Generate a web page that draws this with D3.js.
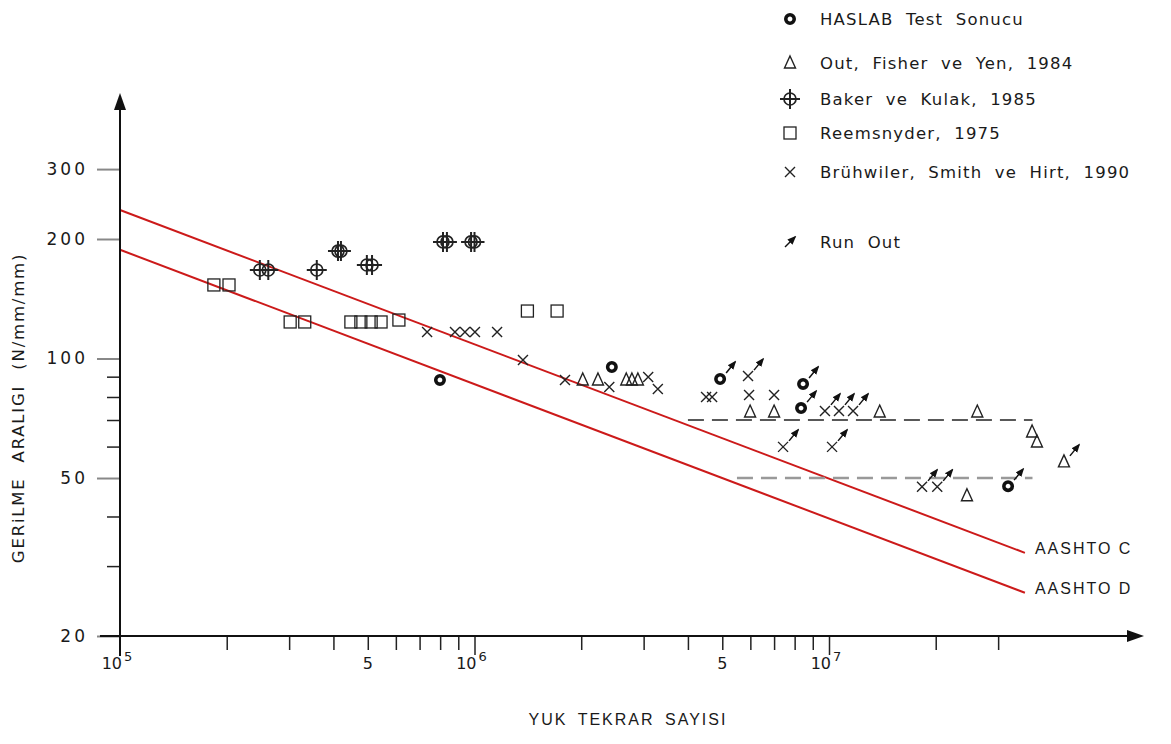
<!DOCTYPE html>
<html>
<head>
<meta charset="utf-8">
<title>Gerilme - Yuk Tekrar</title>
<style>
  body { margin: 0; background: white; }
  svg text { font-family: "DejaVu Sans", sans-serif; fill: #1a1a1a; }
  .leg { font-size: 16.5px; letter-spacing: 1.2px; word-spacing: 6px; }
  .tick text { font-size: 17px; letter-spacing: 3px; }
  .cad { font-family: "Liberation Sans", Arial, sans-serif; font-size: 16px; letter-spacing: 2px; }
</style>
</head>
<body>
<div id="chart"></div>
<script src="https://cdn.jsdelivr.net/npm/d3@7"></script>
<script>
  // each point: [N, stress (N/mm2), run out]
  const haslab = [[7.99e5, 88.3, 0], [2.44e6, 95.2, 0], [4.93e6, 88.8, 1], [8.45e6, 86.3, 1],
                  [8.34e6, 75.0, 1], [3.20e7, 47.7, 1]];
  const outFisherYen = [[2.02e6, 88.3], [2.23e6, 88.3], [2.68e6, 88.3], [2.78e6, 88.3], [2.89e6, 88.3],
                        [5.99e6, 73.3], [7.00e6, 73.3], [1.39e7, 73.3], [2.62e7, 73.3], [3.74e7, 65.3],
                        [3.86e7, 61.6], [4.60e7, 54.9, 1], [2.45e7, 45.1]];
  const bakerKulak = [[2.48e5, 167.1], [2.62e5, 167.1], [3.59e5, 167.1], [4.12e5, 186.5], [4.20e5, 186.5],
                      [4.97e5, 172.0], [5.14e5, 172.0], [8.15e5, 196.6], [8.36e5, 196.6], [9.78e5, 196.6],
                      [1.0e6, 196.6]];
  const reemsnyder = [[1.84e5, 153.2], [2.03e5, 153.2], [3.02e5, 123.6], [3.32e5, 123.6], [4.48e5, 123.6],
                      [4.78e5, 123.6], [5.11e5, 123.6], [5.45e5, 123.6], [6.12e5, 125.0], [1.41e6, 131.7],
                      [1.71e6, 131.7]];
  const bruhwiler = [[7.35e5, 116.6], [8.81e5, 116.6], [9.40e5, 116.6], [1.003e6, 116.6], [1.158e6, 116.6],
                     [1.37e6, 99.1], [1.80e6, 88.3], [2.40e6, 84.8], [3.09e6, 89.8], [3.29e6, 83.8],
                     [4.50e6, 80.0], [4.68e6, 80.0], [5.91e6, 90.3, 1], [5.95e6, 80.9], [7.00e6, 80.9],
                     [9.74e6, 73.8, 1], [1.067e7, 73.8, 1], [1.169e7, 73.8, 1], [7.42e6, 59.9, 1],
                     [1.02e7, 59.9, 1], [1.83e7, 47.5, 1], [2.02e7, 47.5, 1]];

  const aashtoC = [[1e5, 236.6], [3.57e7, 32.4]];
  const aashtoD = [[1e5, 187.9], [3.57e7, 25.7]];
  const limitC = [[4.0e6, 70], [3.75e7, 70]];
  const limitD = [[5.5e6, 50], [3.75e7, 50]];

  const yMajor = [20, 50, 100, 200, 300];
  const yMinor = [30, 40, 60, 70, 80, 90];
  const xMinor = [2e5, 3e5, 4e5, 5e5, 6e5, 7e5, 8e5, 9e5, 2e6, 3e6, 4e6, 5e6, 6e6, 7e6, 8e6, 9e6, 2e7, 3e7];
  const xMajor = [1e6, 1e7];
  const xLabels = [[1e5, "10", "5"], [5e5, "5", ""], [1e6, "10", "6"], [5e6, "5", ""], [1e7, "10", "7"]];

  const legendItems = [["haslab", "HASLAB Test Sonucu"], ["tri", "Out, Fisher ve Yen, 1984"],
                       ["baker", "Baker ve Kulak, 1985"], ["square", "Reemsnyder, 1975"],
                       ["cross", "Brühwiler, Smith ve Hirt, 1990"], ["runout", "Run Out"]];

  const width = 1171, height = 744;
  const x = d3.scaleLog().domain([1e5, 1e7]).range([120, 829]);
  const y = d3.scaleLog().domain([20, 200]).range([636, 239]);

  const svg = d3.select("#chart").append("svg")
    .attr("width", width).attr("height", height);

  svg.append("defs").append("marker")
    .attr("id", "arr").attr("viewBox", "0 0 10 10").attr("refX", 8).attr("refY", 5)
    .attr("markerWidth", 6).attr("markerHeight", 6).attr("orient", "auto")
    .append("path").attr("d", "M0,1L10,5L0,9Z").attr("fill", "#111");

  // AASHTO lines
  const line = d3.line().x(d => x(d[0])).y(d => y(d[1]));
  [aashtoC, aashtoD].forEach(l => {
    svg.append("path").attr("d", line(l)).attr("fill", "none")
      .attr("stroke", "#cc1a1a").attr("stroke-width", 2);
  });
  svg.append("path").attr("d", line(limitC)).attr("fill", "none")
    .attr("stroke", "#222").attr("stroke-width", 1.6).attr("stroke-dasharray", "16,8");
  svg.append("path").attr("d", line(limitD)).attr("fill", "none")
    .attr("stroke", "#999").attr("stroke-width", 2.6).attr("stroke-dasharray", "16,8");

  svg.append("text").attr("class", "cad").attr("x", x(aashtoC[1][0]) + 10).attr("y", y(aashtoC[1][1]) + 1)
    .text("AASHTO  C");
  svg.append("text").attr("class", "cad").attr("x", x(aashtoD[1][0]) + 10).attr("y", y(aashtoD[1][1]) + 1)
    .text("AASHTO  D");

  // axes
  const yMinorAxis = d3.axisLeft(y).tickValues(yMinor).tickSize(13).tickFormat("");
  const yMajorAxis = d3.axisLeft(y).tickValues(yMajor).tickSize(23).tickPadding(9).tickFormat(d3.format("d"));
  const gy1 = svg.append("g").attr("transform", "translate(120,0)").call(yMinorAxis);
  const gy2 = svg.append("g").attr("transform", "translate(120,0)").call(yMajorAxis);
  gy1.selectAll("line").attr("stroke", "#222").attr("stroke-width", 1.5);
  gy2.selectAll("line").attr("stroke", "#888").attr("stroke-width", 2);
  gy2.selectAll("text").attr("font-size", 17).attr("fill", "#333");
  svg.selectAll(".domain").remove();

  const xMinorAxis = d3.axisBottom(x).tickValues(xMinor).tickSize(14).tickFormat("");
  const xMajorAxis = d3.axisBottom(x).tickValues(xMajor).tickSize(19).tickFormat("");
  svg.append("g").attr("transform", "translate(0,636)").call(xMinorAxis)
    .selectAll("line").attr("stroke", "#222").attr("stroke-width", 1.5);
  svg.append("g").attr("transform", "translate(0,636)").call(xMajorAxis)
    .selectAll("line").attr("stroke", "#222").attr("stroke-width", 1.5);
  svg.selectAll(".domain").remove();

  const xl = svg.append("g").selectAll("text").data(xLabels).join("text")
    .attr("x", d => x(d[0]) + (d[2] ? -3 : 0)).attr("y", 669)
    .attr("text-anchor", "middle").attr("font-size", 16).attr("fill", "#333");
  xl.append("tspan").text(d => d[1]);
  xl.append("tspan").attr("dy", -8).attr("font-size", 13).attr("dx", 2).text(d => d[2]);

  // axis lines with arrows
  svg.append("line").attr("x1", 120).attr("x2", 120).attr("y1", 656).attr("y2", 108)
    .attr("stroke", "#111").attr("stroke-width", 2);
  svg.append("path").attr("d", "M120,93L114,110L126,110Z").attr("fill", "#111");
  svg.append("line").attr("x1", 100).attr("x2", 1130).attr("y1", 636).attr("y2", 636)
    .attr("stroke", "#111").attr("stroke-width", 2);
  svg.append("path").attr("d", "M1144,636L1127,630L1127,642Z").attr("fill", "#111");

  svg.append("text").attr("class", "cad").attr("x", 628).attr("y", 725).attr("text-anchor", "middle")
    .attr("font-size", 16).attr("letter-spacing", 2.6).attr("word-spacing", 4).text("YUK TEKRAR SAYISI");
  svg.append("text").attr("transform", "translate(24,408) rotate(-90)").attr("text-anchor", "middle")
    .attr("font-size", 16.5).attr("letter-spacing", 1.8).attr("word-spacing", 8)
    .text("GERiLME ARALIGI (N/mm/mm)");

  // markers
  function drawMarker(g, type) {
    if (type === "haslab") {
      g.append("circle").attr("r", 4.2).attr("fill", "none").attr("stroke", "#111").attr("stroke-width", 3.6);
    } else if (type === "tri") {
      g.append("path").attr("d", "M0,-7L5.5,5L-5.5,5Z").attr("fill", "none").attr("stroke", "#222").attr("stroke-width", 1.4);
    } else if (type === "baker") {
      g.append("circle").attr("r", 6).attr("fill", "none").attr("stroke", "#222").attr("stroke-width", 1.7);
      g.append("path").attr("d", "M-10,0H10M0,-10V10").attr("stroke", "#222").attr("stroke-width", 2);
    } else if (type === "square") {
      g.append("rect").attr("x", -6).attr("y", -6).attr("width", 12).attr("height", 12)
        .attr("fill", "none").attr("stroke", "#222").attr("stroke-width", 1.3);
    } else if (type === "cross") {
      g.append("path").attr("d", "M-5,-5L5,5M-5,5L5,-5").attr("stroke", "#222").attr("stroke-width", 1.4);
    } else if (type === "runout") {
      g.append("line").attr("x1", -5).attr("y1", 5).attr("x2", 5).attr("y2", -5)
        .attr("stroke", "#111").attr("stroke-width", 1.5).attr("marker-end", "url(#arr)");
    }
  }

  const series = [["square", reemsnyder], ["baker", bakerKulak], ["cross", bruhwiler],
                  ["tri", outFisherYen], ["haslab", haslab]];
  series.forEach(([type, data]) => {
    data.forEach(d => {
      const g = svg.append("g").attr("transform", `translate(${x(d[0])},${y(d[1])})`);
      drawMarker(g, type);
      if (d[2]) {
        g.append("line").attr("x1", 6).attr("y1", -6).attr("x2", 15).attr("y2", -17)
          .attr("stroke", "#111").attr("stroke-width", 1.5).attr("marker-end", "url(#arr)");
      }
    });
  });

  // legend
  const legY = [19, 63, 99, 133, 172, 242];
  legendItems.forEach(([type, label], i) => {
    const g = svg.append("g").attr("transform", `translate(790,${legY[i]})`);
    drawMarker(g, type);
    svg.append("text").attr("class", "leg").attr("x", 820).attr("y", legY[i] + 6).text(label);
  });
</script>
</body>
</html>
